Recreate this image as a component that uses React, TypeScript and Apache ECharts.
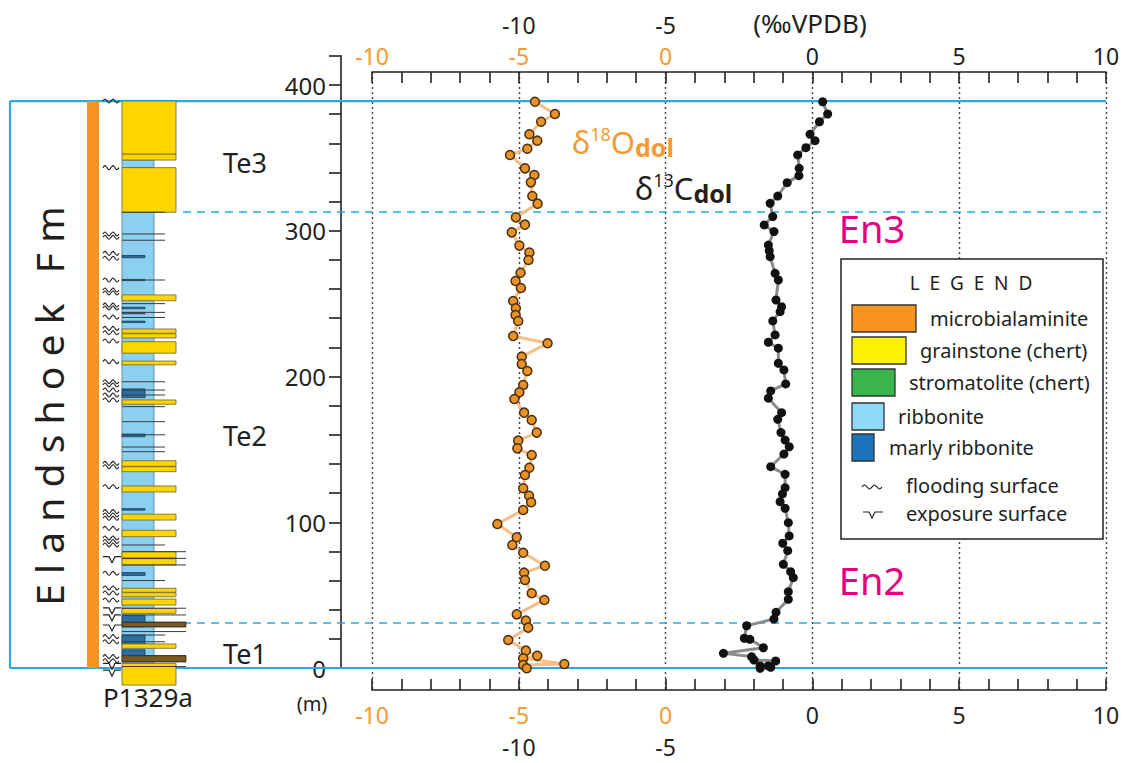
import React, { useEffect, useRef } from 'react';
import * as echarts from 'echarts';

// δ18O of dolomite, section P1329a: [height (m), value (‰ VPDB)]
const D18O: [number, number][] = [
  [388.5, -4.45], [380.1, -3.77], [374.8, -4.24], [366.2, -4.64], [361.8, -4.37], [356.3, -4.71],
  [352.0, -5.3], [342.8, -4.79], [338.2, -4.47], [333.2, -4.59], [323.8, -4.54], [318.6, -4.36],
  [309.2, -5.1], [304.2, -4.79], [298.9, -5.24], [289.8, -4.98], [285.0, -4.64], [279.9, -4.67],
  [271.2, -4.94], [265.5, -5.11], [260.7, -4.93], [251.8, -5.19], [246.8, -5.1], [242.2, -5.11],
  [238.1, -5.02], [227.8, -5.19], [222.8, -4.02], [213.6, -4.9], [208.6, -4.9], [203.8, -4.71],
  [194.2, -4.85], [189.2, -4.98], [184.6, -5.15], [175.2, -4.82], [170.2, -4.56], [161.5, -4.39],
  [156.0, -5.02], [150.7, -5.05], [146.1, -4.56], [137.4, -4.64], [132.4, -4.79], [123.3, -4.85],
  [118.2, -4.65], [113.7, -4.58], [108.4, -4.85], [98.8, -5.73], [89.7, -5.07], [84.4, -5.22],
  [79.1, -4.85], [70.2, -4.11], [65.4, -4.82], [60.4, -4.79], [51.3, -4.56], [46.7, -4.13],
  [36.8, -5.07], [32.5, -4.76], [27.7, -4.68], [19.2, -5.36], [11.9, -4.76], [8.4, -4.37],
  [6.7, -4.85], [2.7, -3.45], [2.1, -4.85], [-0.2, -4.73],
];

// δ13C of dolomite, section P1329a: [height (m), value (‰ VPDB)]
const D13C: [number, number][] = [
  [388.5, 0.35], [380.1, 0.52], [374.8, 0.24], [366.2, -0.08], [361.8, 0.09], [357.0, -0.22],
  [352.0, -0.5], [342.8, -0.45], [337.8, -0.46], [333.0, -0.86], [323.8, -1.18], [318.8, -1.44],
  [309.7, -1.35], [304.0, -1.64], [299.4, -1.31], [290.2, -1.5], [286.3, -1.47], [282.2, -1.44],
  [270.8, -1.27], [266.2, -1.16], [252.5, -1.24], [247.9, -1.05], [244.5, -1.1], [238.1, -1.35],
  [228.5, -1.27], [223.5, -1.5], [219.4, -1.16], [209.1, -1.16], [204.5, -0.97], [194.9, -0.91],
  [190.1, -1.42], [185.1, -1.5], [175.2, -1.05], [170.6, -1.18], [161.5, -1.07], [156.4, -0.93],
  [151.8, -0.79], [146.8, -0.97], [138.1, -1.42], [132.9, -0.93], [123.7, -0.93], [119.4, -1.02],
  [114.1, -1.1], [109.6, -0.93], [99.7, -0.82], [90.6, -0.79], [85.6, -1.01], [80.5, -0.84],
  [71.1, -0.99], [66.1, -0.74], [62.0, -0.65], [52.4, -0.82], [47.1, -0.82], [38.2, -1.24],
  [33.6, -1.31], [29.0, -2.24], [20.4, -2.32], [19.7, -2.13], [13.9, -1.67], [10.1, -3.03],
  [7.8, -2.07], [5.5, -1.99], [4.8, -1.25], [1.4, -1.78], [1.4, -1.5], [0.5, -1.42], [-0.2, -1.78],
];

// Tick labels
const O_LABELS = [-10, -5, 0]; // δ18O scale labels (orange)
const C_LABELS = [-10, -5, 0, 5, 10]; // δ13C scale labels (black)
const HEIGHT_LABELS = [0, 100, 200, 300, 400];

// Section limits and sequence boundaries (m)
const SECTION_LIMITS = [0, 389];
const SEQUENCE_BOUNDARIES = [312.9, 30.9];

// Lithological column: [lithology, base (m), top (m)]
type Lith = 'r' | 'g' | 'm' | 'x';
const BEDS: [Lith, number, number][] = [
  ['r', 3.2, 312.7], ['r', 343.3, 348.5],
  ['g', -11.7, 3.2], ['m', 8.5, 12.5], ['m', 15.8, 22.6], ['g', 13.5, 16.5], ['m', 28.3, 36.0],
  ['g', 37.5, 40.9], ['g', 43.2, 47.3], ['g', 48.9, 51.7], ['g', 52.0, 54.7], ['m', 63.5, 65.5],
  ['g', 70.7, 75.0], ['g', 75.5, 79.8], ['g', 90.1, 94.5], ['g', 101.5, 105.5], ['m', 108.3, 109.3],
  ['g', 120.8, 124.9], ['g', 134.7, 138.1], ['g', 138.4, 142.2], ['m', 158.7, 160.5],
  ['g', 181.0, 183.9], ['m', 185.5, 191.5], ['g', 208.0, 210.6], ['g', 216.0, 223.9],
  ['g', 226.4, 229.3], ['g', 229.7, 232.6], ['m', 237.0, 238.0], ['m', 243.0, 244.0],
  ['m', 246.5, 247.5], ['g', 252.0, 256.0], ['m', 265.8, 266.6], ['m', 281.5, 283.0],
  ['g', 312.7, 343.3], ['g', 348.5, 352.7], ['g', 352.7, 389.0],
  ['x', 4.3, 8.5], ['x', 28.3, 31.4],
];
const MICROBIAL_INTERVAL: [number, number][] = [[0, 389]];
const BED_LINES_LONG = [1.0, 4.3, 8.5, 25.0, 28.3, 31.4, 36.4, 41.0, 70.7, 75.2, 79.8];
const BED_LINES_SHORT = [18.0, 22.6, 60.0, 84.4, 148.4, 151.6, 160.0, 169.0, 179.3, 187.3, 190.7,
  196.4, 240.5, 244.0, 250.0, 266.2, 293.5, 297.8, 312.7];
const FLOODING_SURFACES = [389, 343.3, 297.8, 295.5, 284.5, 281.1, 266.2, 259.3, 257.3, 249.0, 247.0,
  240.8, 233.0, 230.0, 224.4, 210.2, 196.4, 194.2, 190.7, 187.3, 183.9, 140.4, 138.1, 124.4, 107.3,
  105.0, 102.7, 95.8, 89.2, 86.8, 84.4, 65.0, 54.9, 51.5, 46.7, 21.5, 18.0, 7.8, 5.0];
const EXPOSURE_SURFACES = [76.4, 41.2, 36.4, 29.5, 3.2, -1.4];

const FONT = "'Noto Sans', 'DejaVu Sans', sans-serif";
const INK = '#231F20';
const ORANGE = '#F39A33';
const BLUE_LINE = '#29A9E0';
const MAGENTA = '#E6007E';

// Vertical layout: 0 m and 400 m rows
const Y0 = 668;
const PX_PER_M = 583 / 400;
const PLOT_TOP = 72;
const PLOT_BOTTOM = 690;
const H = 763;
const W = 1132;
const Y_MIN = -(PLOT_BOTTOM - Y0) / PX_PER_M;
const Y_MAX = (Y0 - PLOT_TOP) / PX_PER_M;
const AXIS_TOP_M = 420;
const TICK_FONT = 23;

// Column-panel horizontal units (px from the panel's left edge)
const COL = {
  microbial: [77, 89], x0: 112, r: 144, g: 166, m: 135, x: 176,
  lineLong: 176, lineShort: 155, mark: 93, dashStart: 173, end: 1096,
};
const LITH_STYLE: Record<Lith, { right: number; fill: string; stroke: string }> = {
  r: { right: COL.r, fill: '#8CD0F0', stroke: '#4a7f9a' },
  g: { right: COL.g, fill: '#FFD500', stroke: '#6b6230' },
  m: { right: COL.m, fill: '#2C6E9E', stroke: '#1d3f5a' },
  x: { right: COL.x, fill: '#7B5A22', stroke: '#3a2a10' },
};

function buildOption(): echarts.EChartsOption {
  const topLabel = (v: number) => {
    if (v % 5 !== 0) return '';
    if (v <= 0) return O_LABELS.includes(v) ? `{o|${v}}` : '';
    return C_LABELS.includes(v - 5) ? `{k|${v - 5}}` : '';
  };
  const secondRow = (v: number) => (C_LABELS.includes(v) && v < 0 ? String(v) : '');
  const rich = {
    o: { color: ORANGE, fontSize: TICK_FONT, fontFamily: FONT, lineHeight: TICK_FONT },
    k: { color: INK, fontSize: TICK_FONT, fontFamily: FONT, lineHeight: TICK_FONT },
  };
  const isoAxis = (position: 'top' | 'bottom', margin: number) => ({
    gridIndex: 0, type: 'value' as const, position, min: -10, max: 15, interval: 1,
    axisLine: { show: true, onZero: false, lineStyle: { color: INK, width: 1.6 } },
    axisTick: { show: true, inside: true, length: 11, lineStyle: { color: INK, width: 1.6 } },
    axisLabel: { show: true, formatter: topLabel, rich, margin },
    splitLine: { show: false },
  });
  const secondAxis = (position: 'top' | 'bottom', offset: number, showSplit: boolean) => ({
    gridIndex: 0, type: 'value' as const, position, offset, min: -15, max: 10, interval: 5,
    axisLine: { show: false }, axisTick: { show: false },
    axisLabel: {
      show: true, formatter: secondRow, color: INK, fontSize: TICK_FONT, fontFamily: FONT,
      margin: 4, lineHeight: TICK_FONT,
    },
    splitLine: { show: showSplit, lineStyle: { color: '#444', type: [2, 3] as any, width: 1.4 } },
  });

  const wavePoints = (x: number, y: number) => {
    const pts: number[][] = [];
    for (let i = 0; i <= 8; i++) {
      const dy = i % 4 === 1 ? -2 : i % 4 === 3 ? 2 : 0;
      pts.push([x + i * 2, y + dy]);
    }
    return pts;
  };

  return {
    animation: false,
    backgroundColor: '#fff',
    grid: [
      { left: 372, right: W - 1106, top: PLOT_TOP, bottom: H - PLOT_BOTTOM },
      { left: 341, width: 20, top: Y0 - AXIS_TOP_M * PX_PER_M, bottom: H - Y0 },
      { left: 10, right: W - 1106, top: PLOT_TOP, bottom: H - PLOT_BOTTOM },
    ],
    xAxis: [
      isoAxis('top', 5),
      secondAxis('top', 32, true),
      isoAxis('bottom', 13),
      secondAxis('bottom', 41, false),
      { gridIndex: 1, type: 'value', show: false, min: 0, max: 1 },
      { gridIndex: 2, type: 'value', show: false, min: 0, max: COL.end },
    ] as any,
    yAxis: [
      { gridIndex: 0, type: 'value', show: false, min: Y_MIN, max: Y_MAX },
      {
        gridIndex: 1, type: 'value', min: 0, max: AXIS_TOP_M, interval: 20, position: 'left',
        axisLine: { show: true, onZero: false, lineStyle: { color: INK, width: 1.6 } },
        axisTick: { show: true, length: 12, lineStyle: { color: INK, width: 1.6 } },
        axisLabel: {
          formatter: (v: number) => (HEIGHT_LABELS.includes(v) ? String(v) : ''),
          color: INK, fontSize: 24, fontFamily: FONT, margin: 15,
        },
        splitLine: { show: false },
      },
      { gridIndex: 2, type: 'value', show: false, min: Y_MIN, max: Y_MAX },
    ] as any,
    series: [
      // section limits
      {
        type: 'custom', xAxisIndex: 5, yAxisIndex: 2, z: 1, silent: true,
        data: SECTION_LIMITS.map((m) => [0, m]),
        renderItem: (params: any, api: any) => {
          const m = SECTION_LIMITS[params.dataIndex];
          const a = api.coord([0, m]);
          const b = api.coord([COL.end, m]);
          return { type: 'line', shape: { x1: a[0], y1: a[1], x2: b[0], y2: b[1] }, style: { stroke: BLUE_LINE, lineWidth: 2.2 } };
        },
      },
      {
        type: 'custom', xAxisIndex: 5, yAxisIndex: 2, z: 1, silent: true,
        data: [[0, SECTION_LIMITS[0]]],
        renderItem: (params: any, api: any) => {
          const a = api.coord([0, SECTION_LIMITS[0]]);
          const b = api.coord([0, SECTION_LIMITS[1]]);
          return { type: 'line', shape: { x1: a[0], y1: a[1], x2: b[0], y2: b[1] }, style: { stroke: BLUE_LINE, lineWidth: 2.2 } };
        },
      },
      // sequence boundaries
      {
        type: 'custom', xAxisIndex: 5, yAxisIndex: 2, z: 1, silent: true,
        data: SEQUENCE_BOUNDARIES.map((m) => [0, m]),
        renderItem: (params: any, api: any) => {
          const m = SEQUENCE_BOUNDARIES[params.dataIndex];
          const a = api.coord([COL.dashStart, m]);
          const b = api.coord([COL.end, m]);
          return { type: 'line', shape: { x1: a[0], y1: a[1], x2: b[0], y2: b[1] }, style: { stroke: BLUE_LINE, lineWidth: 1.6, lineDash: [8, 6] } };
        },
      },
      // microbialaminite bar
      {
        type: 'custom', xAxisIndex: 5, yAxisIndex: 2, z: 2, silent: true,
        data: MICROBIAL_INTERVAL,
        renderItem: (params: any, api: any) => {
          const [b, t] = MICROBIAL_INTERVAL[params.dataIndex];
          const p0 = api.coord([COL.microbial[0], t]);
          const p1 = api.coord([COL.microbial[1], b]);
          return { type: 'rect', shape: { x: p0[0], y: p0[1], width: p1[0] - p0[0], height: p1[1] - p0[1] }, style: { fill: '#F7941D' } };
        },
      },
      // lithological beds
      {
        type: 'custom', xAxisIndex: 5, yAxisIndex: 2, z: 2, silent: true,
        data: BEDS.map((b) => [b[1], b[2]]),
        renderItem: (params: any, api: any) => {
          const [lith, b, t] = BEDS[params.dataIndex];
          const st = LITH_STYLE[lith];
          const p0 = api.coord([COL.x0, t]);
          const p1 = api.coord([st.right, b]);
          return {
            type: 'rect',
            shape: { x: p0[0], y: p0[1], width: p1[0] - p0[0], height: p1[1] - p0[1] },
            style: { fill: st.fill, stroke: st.stroke, lineWidth: 0.8 },
          };
        },
      },
      // bed boundary lines
      {
        type: 'custom', xAxisIndex: 5, yAxisIndex: 2, z: 3, silent: true,
        data: BED_LINES_LONG.map((m) => [0, m]),
        renderItem: (params: any, api: any) => {
          const m = BED_LINES_LONG[params.dataIndex];
          const a = api.coord([COL.x0, m]);
          const b = api.coord([COL.lineLong, m]);
          return { type: 'line', shape: { x1: a[0], y1: a[1], x2: b[0], y2: b[1] }, style: { stroke: '#3a3a3a', lineWidth: 1 } };
        },
      },
      {
        type: 'custom', xAxisIndex: 5, yAxisIndex: 2, z: 3, silent: true,
        data: BED_LINES_SHORT.map((m) => [0, m]),
        renderItem: (params: any, api: any) => {
          const m = BED_LINES_SHORT[params.dataIndex];
          const a = api.coord([COL.x0, m]);
          const b = api.coord([COL.lineShort, m]);
          return { type: 'line', shape: { x1: a[0], y1: a[1], x2: b[0], y2: b[1] }, style: { stroke: '#3a3a3a', lineWidth: 1 } };
        },
      },
      // flooding surfaces
      {
        type: 'custom', xAxisIndex: 5, yAxisIndex: 2, z: 3, silent: true,
        data: FLOODING_SURFACES.map((m) => [0, m]),
        renderItem: (params: any, api: any) => {
          const m = FLOODING_SURFACES[params.dataIndex];
          const a = api.coord([COL.mark, m]);
          return { type: 'polyline', shape: { points: wavePoints(a[0], a[1]), smooth: 0.4 }, style: { stroke: '#222', lineWidth: 1.1, fill: 'none' } };
        },
      },
      // exposure surfaces
      {
        type: 'custom', xAxisIndex: 5, yAxisIndex: 2, z: 3, silent: true,
        data: EXPOSURE_SURFACES.map((m) => [0, m]),
        renderItem: (params: any, api: any) => {
          const m = EXPOSURE_SURFACES[params.dataIndex];
          const a = api.coord([COL.mark, m]);
          const x = a[0], y = a[1];
          return {
            type: 'polyline',
            shape: { points: [[x, y], [x + 6, y], [x + 9, y + 6], [x + 12, y], [x + 18, y]] },
            style: { stroke: '#222', lineWidth: 1.2, fill: 'none' },
          };
        },
      },
      // isotope profiles
      {
        name: 'δ13C', type: 'line', xAxisIndex: 1, yAxisIndex: 0, z: 5,
        data: D13C.map(([h, v]) => [v, h]),
        symbol: 'circle', symbolSize: 9,
        lineStyle: { color: '#8C8C8C', width: 3 },
        itemStyle: { color: '#111' },
      },
      {
        name: 'δ18O', type: 'line', xAxisIndex: 0, yAxisIndex: 0, z: 5,
        data: D18O.map(([h, v]) => [v, h]),
        symbol: 'circle', symbolSize: 9,
        lineStyle: { color: '#F8BE85', width: 3 },
        itemStyle: { color: '#E8922A', borderColor: '#4A2E0E', borderWidth: 1.5 },
      },
    ] as any,
    graphic: buildGraphics(),
  };
}

const t = (text: string, x: number, y: number, size: number, extra: any = {}) => ({
  type: 'text', x, y, z: extra.z ?? 50, rotation: extra.rotation ?? 0,
  style: {
    text, fontSize: size, fontFamily: FONT, fill: extra.fill ?? INK,
    align: extra.align ?? 'left', verticalAlign: 'middle', fontWeight: extra.weight ?? 'normal',
    lineHeight: extra.lineHeight ?? Math.round(size * 1.05),
  },
});

// Isotope name with superscript mass number and "dol" subscript, as one rich text
const isotopeLabel = (mass: string, element: string, x: number, y: number, color: string) => ({
  type: 'text', x, y, z: 50,
  style: {
    text: `{b|δ}{sup|${mass}}{b|${element}}{sub|dol}`,
    fill: color, align: 'left', verticalAlign: 'middle', fontFamily: FONT,
    rich: {
      b: { fontSize: 31, lineHeight: 34, fill: color, fontFamily: FONT, verticalAlign: 'middle' },
      sup: { fontSize: 18, lineHeight: 18, fill: color, fontFamily: FONT, verticalAlign: 'top' },
      sub: { fontSize: 25, lineHeight: 22, fill: color, fontFamily: FONT, fontWeight: 'bold', verticalAlign: 'bottom' },
    },
  },
});

function buildGraphics(): any[] {
  const legendItems: [string, string, number, number, number][] = [
    // label, fill, swatch width, row centre, text x
    ['microbialaminite', '#F7941D', 64, 318, 930],
    ['grainstone (chert)', '#FFF200', 54, 350, 920],
    ['stromatolite (chert)', '#39B54A', 43, 382, 909],
    ['ribbonite', '#8ED8F8', 32, 416, 898],
    ['marly ribbonite', '#1C75BC', 22, 447, 889],
  ];
  const wave = (x: number, y: number) => {
    const pts: number[][] = [];
    for (let i = 0; i <= 8; i++) pts.push([x + i * 2.5, y + (i % 4 === 1 ? -2 : i % 4 === 3 ? 2 : 0)]);
    return pts;
  };
  return [
    t('E l a n d s h o e k   F m', 48, 406, 39, { align: 'center', rotation: Math.PI / 2 }),
    t('P1329a', 148, 697, 26, { align: 'center' }),
    t('Te3', 245, 162, 27, { align: 'center' }),
    t('Te2', 245, 435, 27, { align: 'center' }),
    t('Te1', 245, 653, 27, { align: 'center' }),
    t('En3', 872, 228, 38, { align: 'center', fill: MAGENTA }),
    t('En2', 872, 580, 38, { align: 'center', fill: MAGENTA }),
    t('(m)', 312, 703, 20, { align: 'center' }),
    t('(‰VPDB)', 810, 23, 26, { align: 'center', lineHeight: 26 }),
    isotopeLabel('18', 'O', 572, 142, ORANGE),
    isotopeLabel('13', 'C', 635, 188, INK),
    // legend
    {
      type: 'group', z: 60,
      children: [
        { type: 'rect', z: 60, shape: { x: 841, y: 259, width: 262, height: 280 }, style: { fill: '#fff', stroke: INK, lineWidth: 1.5 } },
        t('L  E  G  E  N  D', 971, 283, 19, { align: 'center', z: 62 }),
        ...legendItems.flatMap(([label, fill, w, cy, tx]) => [
          { type: 'rect', z: 61, shape: { x: 852, y: cy - 13, width: w, height: 27 }, style: { fill, stroke: '#333', lineWidth: 1.3 } },
          t(label, tx, cy, 20, { z: 62 }),
        ]),
        { type: 'polyline', z: 61, shape: { points: wave(862, 487), smooth: 0.4 }, style: { stroke: '#222', lineWidth: 1.2, fill: 'none' } },
        t('flooding surface', 906, 485, 20, { z: 62 }),
        { type: 'polyline', z: 61, shape: { points: [[863, 512], [869, 512], [872, 518], [875, 512], [883, 512]] }, style: { stroke: '#222', lineWidth: 1.2, fill: 'none' } },
        t('exposure surface', 906, 513, 20, { z: 62 }),
      ],
    },
  ];
}

export default function App() {
  const ref = useRef<HTMLDivElement>(null);
  useEffect(() => {
    if (!ref.current) return;
    const chart = echarts.init(ref.current, undefined, { renderer: 'svg' });
    chart.setOption(buildOption());
    return () => chart.dispose();
  }, []);
  return <div ref={ref} style={{ position: 'absolute', left: 0, top: 0, width: W, height: H }} />;
}
